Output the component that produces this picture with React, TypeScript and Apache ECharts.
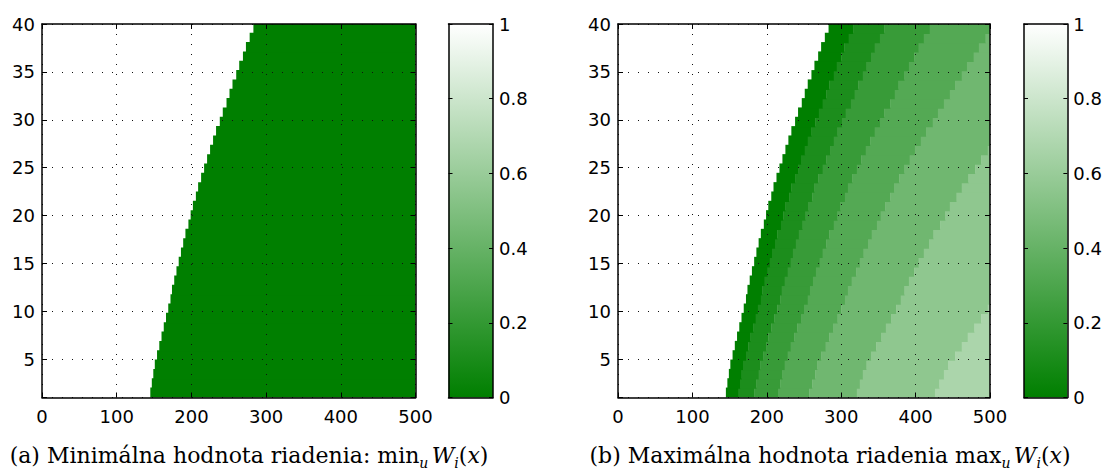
import React, { useEffect, useRef } from "react";
import * as echarts from "echarts";

// ---------- data ----------
const X_TICKS_MAX = 500;
const X_MIN = 0;
const Y_MIN = 1;
const Y_MAX = 40;
const ROW_COUNT = 40;

// x where the white (no control) region ends, per row y = 1..40
const EDGE_0 = [145,147,149,151,154,157,160,163,166,169,172,174,177,180,183,186,189,192,196,199,202,206,209,213,217,221,225,229,233,238,242,247,251,255,260,264,269,273,278,283];
// band borders of the maximum-value panel, per row
const EDGE_1 = [162,164,166,168,172,175,178,182,185,188,192,194,197,201,204,207,211,214,219,222,225,230,233,238,242,246,251,255,260,265,270,275,280,284,290,294,300,304,310,316];
const EDGE_2 = [183,186,189,191,195,199,202,206,210,214,218,220,224,228,232,235,239,243,248,252,256,261,264,269,275,280,285,290,295,301,306,313,318,323,329,334,340,345,352,358];
const EDGE_3 = [215,218,221,224,228,232,237,241,246,250,255,258,262,266,271,275,280,284,290,295,299,305,309,315,321,327,333,339,345,352,358,366,372,377,385,391,398,404,411,419];
const EDGE_4 = [257,261,265,268,273,279,284,289,295,300,305,309,314,320,325,330,336,341,348,353,359,366,371,378,385,392,399,407,414,423,430,438,446,453,462,469,478,485,494,502];
const EDGE_5 = [321,325,329,334,340,347,354,360,367,374,380,385,391,398,404,411,418,424,433,440,446,455,462,471,480,488,497,506,515,526,535,546,555,564,575,583,595,603,614,625];
const EDGE_6 = [426,432,438,444,453,462,470,479,488,497,506,512,520,529,538,547,556,564,576,585,594,606,614,626,638,650,662,673,685,700,711,726,738,750,764,776,791,803,817,832];

// value of each band (left to right) in the max panel
const BAND_LEVELS = [0, 0.11, 0.22, 0.33, 0.44, 0.56, 0.67];
// value in the min panel right of the edge
const MIN_LEVEL = 0;

const CAPTION_A = "{n|(a) Minimálna hodnota riadenia: min}{s|u} {i|W}{s|i}{n|(}{i|x}{n|)}";
const CAPTION_B = "{n|(b) Maximálna hodnota riadenia max}{s|u} {i|W}{s|i}{n|(}{i|x}{n|)}";

// ---------- helpers ----------
const colorOf = (v: number) =>
  `rgb(${Math.round(255 * v)},${Math.round(127 + 128 * v)},${Math.round(255 * v)})`;

const ROW_H = (Y_MAX - Y_MIN) / ROW_COUNT;

const leftData: number[][] = EDGE_0.map((e, i) => [i, e, X_TICKS_MAX, MIN_LEVEL]);
const ALL_EDGES = [EDGE_0, EDGE_1, EDGE_2, EDGE_3, EDGE_4, EDGE_5, EDGE_6];
const rightData: number[][] = [];
for (let i = 0; i < ROW_COUNT; i++) {
  for (let k = 0; k < ALL_EDGES.length; k++) {
    const s = ALL_EDGES[k][i];
    const e = k < ALL_EDGES.length - 1 ? ALL_EDGES[k + 1][i] : X_TICKS_MAX;
    if (s < X_TICKS_MAX) rightData.push([i, s, Math.min(e, X_TICKS_MAX), BAND_LEVELS[k]]);
  }
}

const FONT = "DejaVu Sans";
const SERIF = "DejaVu Serif";

function renderCell(params: any, api: any) {
  const r = api.value(0);
  const x0 = api.value(1);
  const x1 = api.value(2);
  const v = api.value(3);
  const yLow = Y_MIN + r * ROW_H;
  const yHigh = yLow + ROW_H;
  const a = api.coord([x0, yHigh]);
  const b = api.coord([x1, yLow]);
  const cs = params.coordSys;
  const shape = echarts.graphic.clipRectByRect(
    { x: a[0], y: a[1] - 0.6, width: b[0] - a[0] + 0.4, height: b[1] - a[1] + 1.2 },
    { x: cs.x, y: cs.y, width: cs.width, height: cs.height }
  );
  if (!shape) return null;
  return { type: "rect", shape, style: { fill: colorOf(v) } };
}

function renderBar(params: any, api: any) {
  const a = api.coord([0, 1]);
  const b = api.coord([1, 0]);
  return {
    type: "rect",
    shape: { x: a[0], y: a[1], width: b[0] - a[0], height: b[1] - a[1] },
    style: {
      fill: new echarts.graphic.LinearGradient(0, 0, 0, 1, [
        { offset: 0, color: colorOf(1) },
        { offset: 1, color: colorOf(0) },
      ]),
    },
  };
}

const axisLine = { show: true, onZero: false, lineStyle: { color: "#000", width: 1.5 } };
const tickIn = { show: true, inside: true, length: 5, lineStyle: { color: "#000", width: 1 } };
const dotted = { show: true, lineStyle: { color: "#111", width: 1, type: [1, 9] as any } };
const labelStyle = { color: "#000", fontSize: 18, fontFamily: FONT };

function plotAxes(g: number) {
  const xs = [
    {
      gridIndex: g, type: "value", min: X_MIN, max: X_TICKS_MAX, interval: 100, position: "bottom",
      axisLine, axisTick: tickIn, splitLine: dotted,
      axisLabel: { ...labelStyle, margin: 10 }, z: 10,
    },
    {
      gridIndex: g, type: "value", min: X_MIN, max: X_TICKS_MAX, interval: 100, position: "top",
      axisLine, axisTick: tickIn, splitLine: { show: false }, axisLabel: { show: false }, z: 10,
    },
  ];
  const ys = [
    {
      gridIndex: g, type: "value", min: Y_MIN, max: Y_MAX, splitNumber: 8, position: "left",
      axisLine, axisTick: tickIn, splitLine: dotted,
      axisLabel: { ...labelStyle, margin: 7, formatter: (v: number) => (v % 5 === 0 ? String(v) : "") },
      z: 10,
    },
    {
      gridIndex: g, type: "value", min: Y_MIN, max: Y_MAX, splitNumber: 8, position: "right",
      axisLine, axisTick: tickIn, splitLine: { show: false }, axisLabel: { show: false }, z: 10,
    },
  ];
  return { xs, ys };
}

function barAxes(g: number) {
  const xs = [
    { gridIndex: g, type: "value", min: 0, max: 1, position: "bottom", axisLine, axisTick: { show: false }, axisLabel: { show: false }, splitLine: { show: false }, z: 10 },
    { gridIndex: g, type: "value", min: 0, max: 1, position: "top", axisLine, axisTick: { show: false }, axisLabel: { show: false }, splitLine: { show: false }, z: 10 },
  ];
  const ys = [
    {
      gridIndex: g, type: "value", min: 0, max: 1, interval: 0.2, position: "right",
      axisLine, axisTick: { ...tickIn, length: 4 }, splitLine: { show: false },
      axisLabel: { ...labelStyle, margin: 6 }, z: 10,
    },
    {
      gridIndex: g, type: "value", min: 0, max: 1, interval: 0.2, position: "left",
      axisLine, axisTick: { ...tickIn, length: 4 }, splitLine: { show: false }, axisLabel: { show: false }, z: 10,
    },
  ];
  return { xs, ys };
}

const captionRich = {
  n: { fontFamily: SERIF, fontSize: 22, lineHeight: 30, color: "#111" },
  i: { fontFamily: SERIF, fontSize: 22, lineHeight: 30, fontStyle: "italic", color: "#111" },
  s: { fontFamily: SERIF, fontSize: 14, lineHeight: 14, fontStyle: "italic", verticalAlign: "bottom", color: "#111" },
};

export default function App() {
  const ref = useRef<HTMLDivElement>(null);
  useEffect(() => {
    if (!ref.current) return;
    const chart = echarts.init(ref.current, undefined, { renderer: "svg" });
    const p0 = plotAxes(0), b0 = barAxes(1), p1 = plotAxes(2), b1 = barAxes(3);
    chart.setOption({
      animation: false,
      backgroundColor: "#fff",
      grid: [
        { left: 42, top: 24, width: 373.5, height: 373.5 },
        { left: 448.5, top: 24, width: 44.5, height: 373.5 },
        { left: 618, top: 24, width: 372, height: 373.5 },
        { left: 1024, top: 24, width: 45, height: 373.5 },
      ],
      xAxis: [...p0.xs, ...b0.xs, ...p1.xs, ...b1.xs],
      yAxis: [...p0.ys, ...b0.ys, ...p1.ys, ...b1.ys],
      series: [
        { type: "custom", xAxisIndex: 0, yAxisIndex: 0, data: leftData, renderItem: renderCell, z: 2 },
        { type: "custom", xAxisIndex: 2, yAxisIndex: 2, data: [[0]], renderItem: renderBar, z: 2 },
        { type: "custom", xAxisIndex: 4, yAxisIndex: 4, data: rightData, renderItem: renderCell, z: 2 },
        { type: "custom", xAxisIndex: 6, yAxisIndex: 6, data: [[0]], renderItem: renderBar, z: 2 },
      ],
      graphic: [
        { type: "text", x: 249, y: 455, style: { text: CAPTION_A, rich: captionRich, align: "center", verticalAlign: "middle" } },
        { type: "text", x: 830, y: 455, style: { text: CAPTION_B, rich: captionRich, align: "center", verticalAlign: "middle" } },
      ],
    });
    return () => chart.dispose();
  }, []);
  return (
    <div
      ref={ref}
      style={{ position: "fixed", left: 0, top: 0, width: 1105, height: 473, background: "#fff" }}
    />
  );
}
